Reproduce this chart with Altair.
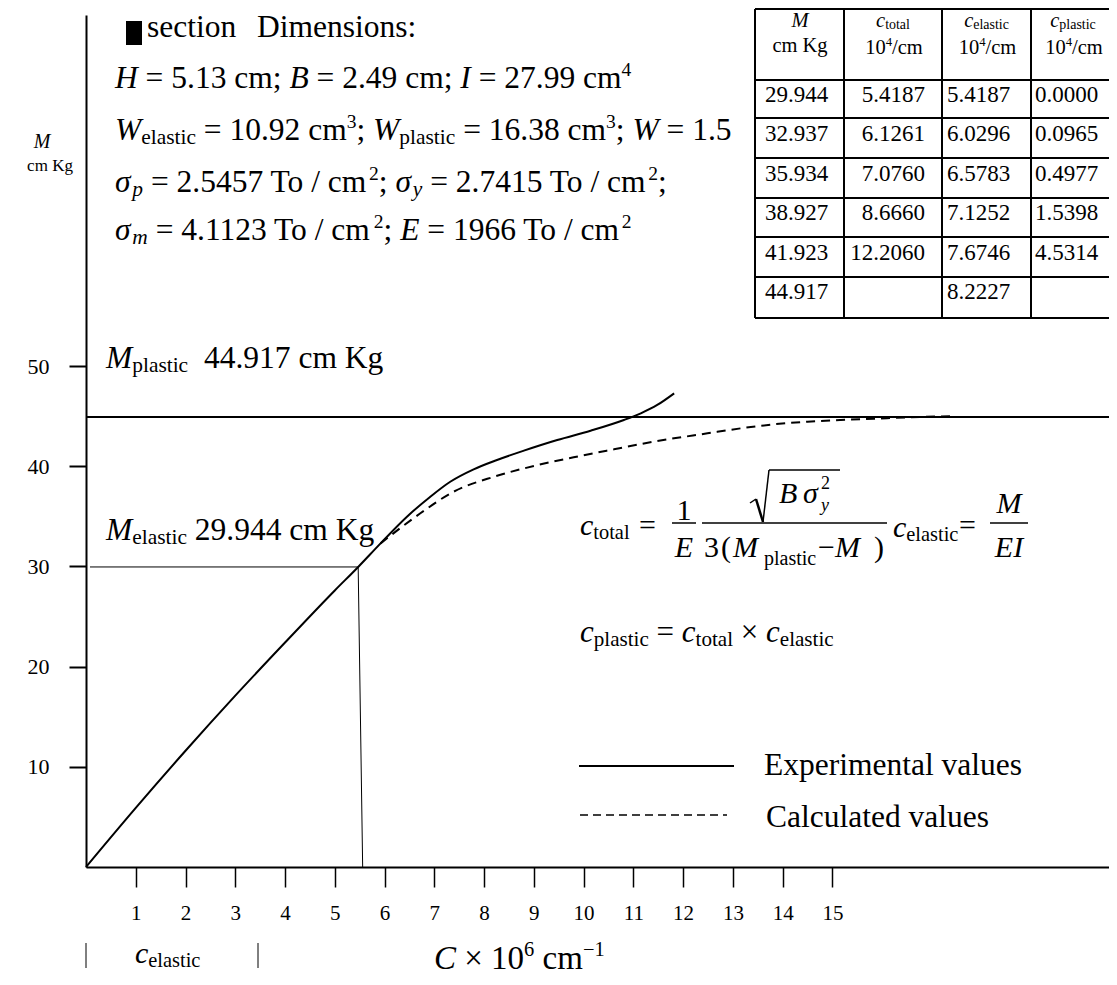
import altair as alt
import pandas as pd

# ---------------- values ----------------
# experimental curve (solid): curvature C (x 10^6 1/cm) vs moment M (cm Kg)
exp_c = [0, 1.0, 2.0, 3.0, 4.0, 5.0, 5.47, 5.92, 6.45, 6.92, 7.32, 7.79, 8.26,
         8.80, 9.47, 10.14, 10.81, 11.15, 11.48, 11.82]
exp_M = [0, 5.9, 11.6, 17.1, 22.4, 27.6, 29.944, 32.3, 34.96, 36.96, 38.45, 39.69,
         40.62, 41.55, 42.61, 43.54, 44.61, 45.28, 46.11, 47.27]
# calculated curve (dashed)
calc_c = [5.92, 6.72, 7.39, 8.20, 9.00, 9.80, 10.61, 11.41, 12.49, 13.16, 13.83,
          14.50, 15.17, 15.84, 16.51, 17.42]
calc_M = [32.3, 35.3, 37.46, 38.95, 40.02, 40.89, 41.69, 42.45, 43.28, 43.78, 44.18,
          44.44, 44.61, 44.74, 44.88, 44.98]
# elastic limit guide (thin lines) and plastic moment line
guide_c = [0.08, 5.47, 5.56]
guide_M = [29.944, 29.944, 0.0]
M_plastic = [44.917]
x_ticks = list(range(1, 16))
y_ticks = [10, 20, 30, 40, 50]
# table
tab_M = [29.944, 32.937, 35.934, 38.927, 41.923, 44.917]
tab_ctotal = [5.4187, 6.1261, 7.0760, 8.6660, 12.2060, None]
tab_celastic = [5.4187, 6.0296, 6.5783, 7.1252, 7.6746, 8.2227]
tab_cplastic = [0.0000, 0.0965, 0.4977, 1.5398, 4.5314, None]

# ---------------- layout ----------------
LEFT, TOP = 86, 15          # page position of the plot origin (top-left)
W, H = 1023, 852
XMAX = W / 49.76
YMAX = H / 10.02
FONT = "Liberation Serif"
ONE = pd.DataFrame({"k": [0]})

REG = {' ': 250, '(': 333, ')': 333, ',': 250, '-': 333, '.': 250, '/': 278, ':': 278,
       ';': 278, '=': 564, '×': 564, '−': 564, 'σ': 550}
for d in "0123456789":
    REG[d] = 500
REG.update(dict(zip("ABCDEFGHIJKLMNOPQRSTUVWXYZ",
                    [722, 667, 667, 722, 611, 556, 722, 722, 333, 389, 722, 611, 889, 722,
                     722, 556, 722, 667, 556, 611, 722, 722, 944, 722, 722, 611])))
REG.update(dict(zip("abcdefghijklmnopqrstuvwxyz",
                    [444, 500, 444, 500, 444, 333, 500, 500, 278, 278, 500, 278, 778, 500,
                     500, 500, 500, 333, 389, 278, 500, 500, 722, 500, 500, 444])))
ITA = dict(REG)
ITA.update(dict(zip("ABCDEFGHIJKLMNOPQRSTUVWXYZ",
                    [611, 611, 667, 722, 611, 611, 722, 722, 333, 444, 667, 556, 833, 667,
                     722, 611, 722, 611, 500, 556, 722, 611, 833, 611, 556, 556])))
ITA.update(dict(zip("abcdefghijklmnopqrstuvwxyz",
                    [500, 500, 444, 500, 444, 278, 500, 500, 278, 278, 444, 278, 722, 500,
                     500, 500, 500, 389, 389, 278, 500, 444, 667, 444, 444, 389])))


def twidth(s, size, italic):
    t = ITA if italic else REG
    return sum(t.get(ch, 500) for ch in s) * size / 1000.0


def put(s, x, y, size, italic=False, align="left"):
    return alt.Chart(ONE).mark_text(
        text=s, font=FONT, fontSize=size, fontStyle="italic" if italic else "normal",
        align=align, baseline="alphabetic", color="black"
    ).encode(x=alt.value(x - LEFT), y=alt.value(y - TOP))


def seg(x1, y1, x2, y2, w=1.5, dash=None):
    kw = dict(color="black", strokeWidth=w)
    if dash:
        kw["strokeDash"] = dash
    return alt.Chart(ONE).mark_rule(**kw).encode(
        x=alt.value(x1 - LEFT), y=alt.value(y1 - TOP),
        x2=alt.value(x2 - LEFT), y2=alt.value(y2 - TOP))


KIND = {"r": (1, False, 0), "i": (1, True, 0), "sub": (0.68, False, 0.12),
        "subi": (0.68, True, 0.14), "sup": (0.62, False, -0.38)}


def rich(x, y, parts, base, anchor="left"):
    total = sum(twidth(s, base * KIND[k][0], KIND[k][1]) for s, k in parts)
    cx = x - total / 2 if anchor == "center" else x
    out = []
    for s, k in parts:
        f, it, dy = KIND[k]
        size = base * f
        lead = len(s) - len(s.lstrip(" "))
        body = s.strip(" ")
        if body:
            out.append(put(body, cx + twidth(" " * lead, size, it), y + dy * base, size, it))
        cx += twidth(s, size, it)
    return out


# ---------------- main plot ----------------
xs = alt.Scale(domain=[0, XMAX], nice=False, zero=False)
ys = alt.Scale(domain=[0, YMAX], nice=False, zero=False)
xaxis = alt.Axis(values=x_ticks, format="d", tickSize=20, tickWidth=1.5, tickColor="black",
                 domainColor="black", domainWidth=2, labelFont=FONT, labelFontSize=21,
                 labelColor="black", labelPadding=15, grid=False, labelFlush=False,
                 labelOverlap=False, title=None)
yaxis = alt.Axis(values=y_ticks, format="d", tickSize=17, tickWidth=2, tickColor="black",
                 domainColor="black", domainWidth=2, labelFont=FONT, labelFontSize=22,
                 labelColor="black", labelPadding=20, grid=False, labelOverlap=False,
                 title=None)
X = alt.X("c:Q", scale=xs, axis=xaxis, title=None)
Y = alt.Y("M:Q", scale=ys, axis=yaxis, title=None)

exp_line = alt.Chart(pd.DataFrame({"c": exp_c, "M": exp_M})).mark_line(
    color="black", strokeWidth=2, interpolate="monotone").encode(x=X, y=Y)
calc_line = alt.Chart(pd.DataFrame({"c": calc_c, "M": calc_M})).mark_line(
    color="black", strokeWidth=2, strokeDash=[9, 6], interpolate="monotone").encode(x=X, y=Y)
guide = alt.Chart(pd.DataFrame({"c": guide_c, "M": guide_M})).mark_line(
    color="black", strokeWidth=1).encode(x=X, y=Y)
mpl = alt.Chart(pd.DataFrame({"M": M_plastic})).mark_rule(color="black", strokeWidth=2).encode(
    y=Y, x=alt.value(0), x2=alt.value(W))

ann = []
# section dimensions block
ann.append(alt.Chart(ONE).mark_rect(color="black").encode(
    x=alt.value(126 - LEFT), x2=alt.value(142 - LEFT), y=alt.value(21 - TOP), y2=alt.value(45 - TOP)))
ann.append(put("section", 147, 37, 31.5))
ann.append(put("Dimensions:", 257, 37, 31.5))
B = 31.5
ann += rich(115, 88, [("H", "i"), (" = 5.13 cm; ", "r"), ("B", "i"), (" = 2.49 cm; ", "r"),
                      ("I", "i"), (" = 27.99 cm", "r"), ("4", "sup")], B)
ann += rich(115, 140, [("W", "i"), ("elastic", "sub"), (" = 10.92 cm", "r"), ("3", "sup"),
                       ("; ", "r"), ("W", "i"), ("plastic", "sub"), (" = 16.38 cm", "r"),
                       ("3", "sup"), ("; ", "r"), ("W", "i"), (" = 1.5", "r")], B)
ann += rich(115, 192, [("σ", "i"), ("p", "subi"), (" = 2.5457 To / cm", "r"), ("2", "sup"),
                       ("; ", "r"), ("σ", "i"), ("y", "subi"), (" = 2.7415 To / cm", "r"),
                       ("2", "sup"), (";", "r")], B)
ann += rich(115, 240, [("σ", "i"), ("m", "subi"), (" = 4.1123 To / cm", "r"), ("2", "sup"),
                       ("; ", "r"), ("E", "i"), (" = 1966 To / cm", "r"), ("2", "sup")], B)
# axis title on the left
ann.append(put("M", 42, 148, 20, True, "center"))
ann.append(put("cm Kg", 50, 171, 17, False, "center"))
# moment labels
ann += rich(106, 368, [("M", "i"), ("plastic", "sub"), ("  44.917 cm Kg", "r")], B)
ann += rich(106, 540, [("M", "i"), ("elastic", "sub"), (" 29.944 cm Kg", "r")], B)
# formula c_total
ann += rich(580, 535, [("c", "i"), ("total", "sub")], 30)
ann.append(put("=", 639, 535, 30))
ann.append(put("1", 684, 520, 30, False, "center"))
ann.append(seg(672, 523, 696, 523, 1.5))
ann.append(put("E", 684, 557, 30, True, "center"))
ann.append(seg(750, 503, 756, 499, 1.5))
ann.append(seg(756, 499, 763, 522, 2.5))
ann.append(seg(763, 522, 769, 470, 1.5))
ann.append(seg(769, 470, 840, 470, 1.5))
ann.append(put("B", 779, 503, 30, True))
ann.append(put("σ", 803, 503, 30, True))
ann.append(put("2", 821, 489, 18))
ann.append(put("y", 821, 511, 18, True))
ann.append(seg(702, 523, 887, 523, 1.5))
ann.append(put("3", 704, 557, 30))
ann.append(put("(", 721, 557, 30))
ann.append(put("M", 733, 557, 30, True))
ann.append(put("plastic", 764, 565, 20))
ann.append(put("−", 818, 557, 30))
ann.append(put("M", 835, 557, 30, True))
ann.append(put(")", 874, 557, 30))
ann += rich(893, 537, [("c", "i"), ("elastic", "sub")], 30)
ann.append(put("=", 959, 535, 30))
ann.append(put("M", 1009, 513, 30, True, "center"))
ann.append(seg(990, 523, 1028, 523, 1.5))
ann.append(put("EI", 1009, 557, 30, True, "center"))
# formula c_plastic
ann += rich(580, 642, [("c", "i"), ("plastic", "sub"), (" = ", "r"), ("c", "i"), ("total", "sub"),
                       (" × ", "r"), ("c", "i"), ("elastic", "sub")], 31)
# legend
ann.append(seg(579, 766, 734, 766, 2))
ann.append(seg(580, 815, 727, 815, 1.5, [8, 5]))
ann.append(put("Experimental values", 764, 775, 31.5))
ann.append(put("Calculated values", 766, 827, 31.5))
# bottom labels
ann.append(seg(86, 943, 86, 968, 1))
ann.append(seg(258, 943, 258, 968, 1))
ann += rich(135, 963, [("c", "i"), ("elastic", "sub")], 30)
ann += rich(434, 969, [("C", "i"), (" × 10", "r"), ("6", "sup"), (" cm", "r"), ("−1", "sup")], 33)

# table frame and header
for yy in [9, 80, 118, 158, 198, 237, 277, 318]:
    ann.append(seg(755, yy, 1109, yy, 2))
for xx in [755, 844, 942, 1031]:
    ann.append(seg(xx, 9, xx, 318, 2))
TB = 20.5
ann.append(put("M", 800, 27, TB, True, "center"))
ann.append(put("cm Kg", 800, 52, TB, False, "center"))
for cx, name in [(893, "total"), (986.5, "elastic"), (1073, "plastic")]:
    ann += rich(cx, 27, [("c", "i"), (name, "sub")], TB, "center")
    ann += rich(cx + 1, 54, [("10", "r"), ("4", "sup"), ("/cm", "r")], TB, "center")

main = alt.layer(exp_line, calc_line, guide, mpl, *ann)

# table values (rows through their own scale)
tab = pd.DataFrame({"row": list(range(6)), "M": tab_M, "ct": tab_ctotal,
                    "ce": tab_celastic, "cp": tab_cplastic})
rowY = alt.Y("row:Q", scale=alt.Scale(domain=[0, 5], range=[102 - TOP, 299 - TOP]), axis=None)


def col(field, xpage, align, fmt):
    return alt.Chart(tab).transform_filter(f"isValid(datum.{field})").mark_text(
        font=FONT, fontSize=23, align=align, baseline="alphabetic", color="black"
    ).encode(x=alt.value(xpage - LEFT), y=rowY, text=alt.Text(f"{field}:Q", format=fmt))


table = alt.layer(col("M", 765, "left", ".3f"), col("ct", 925, "right", ".4f"),
                  col("ce", 947, "left", ".4f"), col("cp", 1035, "left", ".4f"))

chart = alt.layer(main, table).resolve_scale(y="independent").properties(
    width=W, height=H, background="white",
    autosize=alt.AutoSizeParams(type="none"),
    padding={"left": LEFT - 8, "top": TOP - 8, "right": 0, "bottom": 969 - (TOP - 8) - H},
).configure_view(stroke=None)

chart.save("out.html", embed_options={"renderer": "svg", "actions": False})
